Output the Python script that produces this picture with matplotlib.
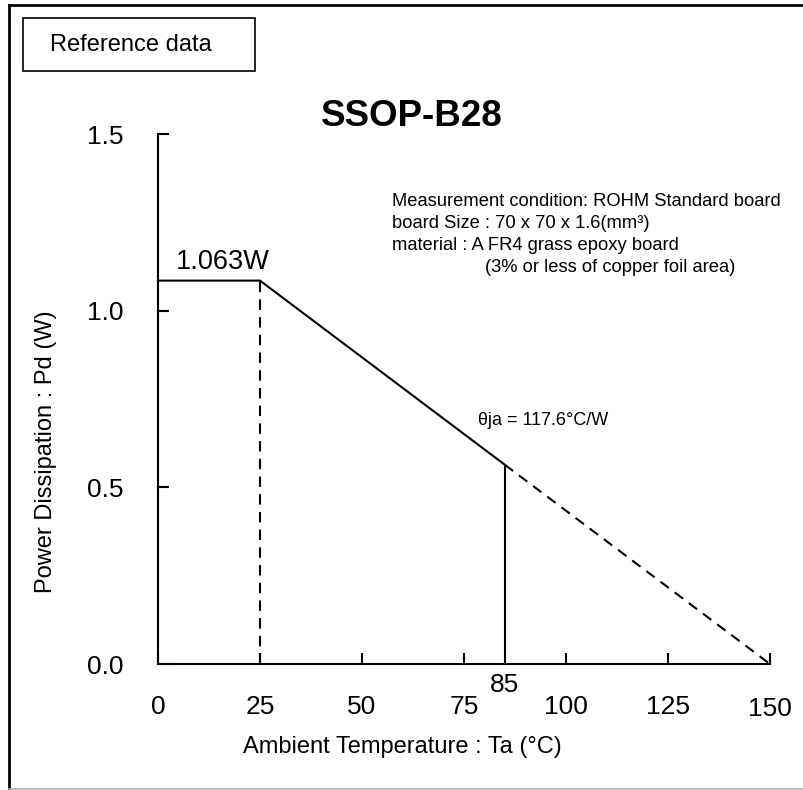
import matplotlib
matplotlib.use('Agg')
import matplotlib.pyplot as plt
from matplotlib.lines import Line2D
from matplotlib.patches import Rectangle

plt.rcParams['font.family'] = ['Liberation Sans', 'DejaVu Sans']

# Derating curve
ta_solid = [0, 25, 85]
pd_solid = [1.085, 1.085, 0.564]
ta_dashed = [85, 150]
pd_dashed = [0.564, 0.0]
ta_knee = 25
ta_limit = 85

x_ticks = [0, 25, 50, 75, 100, 125, 150]
y_ticks = [0.0, 0.5, 1.0, 1.5]
y_tick_labels = ['0.0', '0.5', '1.0', '1.5']

cond_lines = ['Measurement condition: ROHM Standard board',
              'board Size : 70 x 70 x 1.6(mm³)',
              'material : A FR4 grass epoxy board',
              '(3% or less of copper foil area)']

W, H = 804, 790
fig = plt.figure(figsize=(W / 100, H / 100), dpi=100)

# outer frame
fig.add_artist(Line2D([9 / W, 9 / W], [1 - 5 / H, 1 - 789 / H], color='black', lw=2))
fig.add_artist(Line2D([9 / W, 1], [1 - 5 / H, 1 - 5 / H], color='black', lw=2))
fig.add_artist(Line2D([9 / W, 1], [1 - 789 / H, 1 - 789 / H], color='#b0b0b0', lw=1.2))

# "Reference data" box
fig.add_artist(Rectangle((23 / W, 1 - 71 / H), 232 / W, 53 / H, fill=False,
                         edgecolor='black', lw=1.2))
fig.text(50 / W, 1 - 45 / H, 'Reference data', fontsize=17, va='center', ha='left')

ax = fig.add_axes([158 / W, 1 - 664 / H, 612 / W, 530 / H])
ax.set_xlim(0, 150)
ax.set_ylim(0, 1.5)
for s in ['top', 'right']:
    ax.spines[s].set_visible(False)
for s in ['left', 'bottom']:
    ax.spines[s].set_linewidth(1.5)
ax.patch.set_visible(False)

ax.plot(ta_solid, pd_solid, color='black', lw=1.5, clip_on=False)
ax.plot(ta_dashed, pd_dashed, color='black', lw=1.5, ls=(0, (5, 3.5)), clip_on=False)
ax.plot([ta_knee, ta_knee], [0, pd_solid[1]], color='black', lw=1.5, ls=(0, (5, 3.5)))
ax.plot([ta_limit, ta_limit], [0, pd_solid[2]], color='black', lw=1.5)

ax.set_xticks(x_ticks)
ax.set_xticklabels([str(t) for t in x_ticks])
ax.set_yticks(y_ticks)
ax.set_yticklabels(y_tick_labels)
ax.tick_params(direction='in', length=8, width=1.5, labelsize=19)
ax.tick_params(axis='x', pad=22.5)
ax.tick_params(axis='y', pad=25)
ax.get_xticklabels()[-1].set_y(-0.004)

ax.set_xlabel('Ambient Temperature : Ta (°C)', fontsize=17)
ax.xaxis.set_label_coords((402 - 158) / 612, -0.136)
ax.set_ylabel('Power Dissipation : Pd (W)', fontsize=17)
ax.yaxis.set_label_coords(-(158 - 57) / 612, (664 - 452) / 530)

ax.text(ta_limit, -0.025, '85', fontsize=19, ha='center', va='top')
ax.text(4.5, 1.10, '1.063W', fontsize=19.5, ha='left', va='bottom')
ax.text(78.5, 0.69, 'θja = 117.6°C/W', fontsize=13, ha='left', va='center')

fig.text(412 / W, 1 - 117 / H, 'SSOP-B28', fontsize=26.5, fontweight='bold',
         ha='center', va='center')

line_y = [202, 223, 245, 267]
line_x = [392, 392, 392, 485]
for txt, lx, ly in zip(cond_lines, line_x, line_y):
    fig.text(lx / W, 1 - ly / H, txt, fontsize=13.2, ha='left', va='center')

fig.savefig('out.png', dpi=100)
